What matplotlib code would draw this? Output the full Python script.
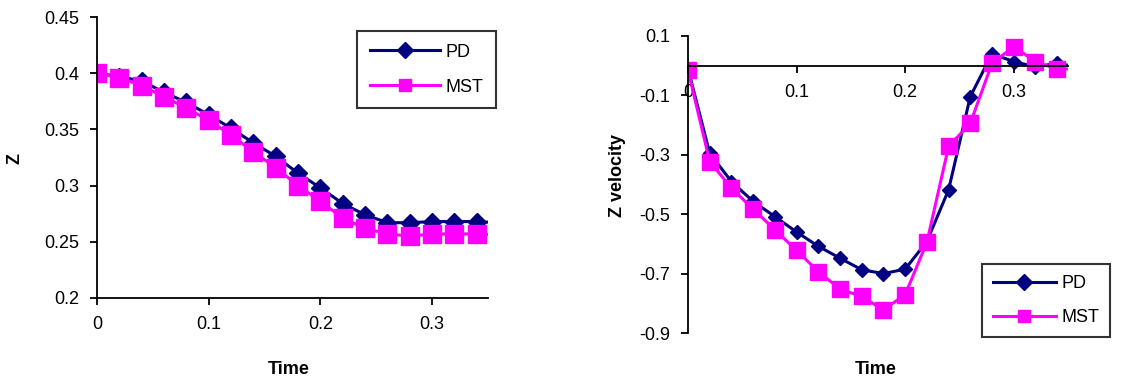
import matplotlib
matplotlib.use("Agg")
import matplotlib.pyplot as plt
from matplotlib.ticker import FormatStrFormatter, FuncFormatter

# time samples (last one lies just past the axis end, so only its line shows)
time = [0, 0.02, 0.04, 0.06, 0.08, 0.10, 0.12, 0.14, 0.16, 0.18,
        0.20, 0.22, 0.24, 0.26, 0.28, 0.30, 0.32, 0.34, 0.36]

# Z position
z_pd = [0.400, 0.397, 0.393, 0.383, 0.374, 0.363, 0.351, 0.338, 0.326, 0.311,
        0.298, 0.284, 0.274, 0.267, 0.267, 0.268, 0.268, 0.268, 0.267]
z_mst = [0.400, 0.396, 0.389, 0.379, 0.369, 0.358, 0.345, 0.330, 0.316, 0.300,
         0.286, 0.271, 0.262, 0.257, 0.255, 0.257, 0.257, 0.257, 0.256]

# Z velocity
v_pd = [-0.010, -0.295, -0.390, -0.457, -0.508, -0.560, -0.608, -0.648, -0.687, -0.700,
        -0.685, -0.592, -0.418, -0.104, 0.040, 0.014, -0.004, 0.008, -0.005]
v_mst = [-0.015, -0.323, -0.412, -0.483, -0.552, -0.622, -0.693, -0.752, -0.777, -0.822,
         -0.771, -0.595, -0.272, -0.194, 0.008, 0.064, 0.014, -0.012, -0.010]

series_labels = ["PD", "MST"]
navy = "#000080"
magenta = "#FF00FF"

plt.rcParams["font.family"] = ["Liberation Sans", "DejaVu Sans"]
plt.rcParams["axes.unicode_minus"] = False
fs = 13

W, H = 1138, 385
fig = plt.figure(figsize=(W / 100, H / 100), dpi=100, facecolor="w")

# ---- left: Z ----
ax1 = fig.add_axes([97 / W, 1 - 298 / H, 391 / W, 281 / H])
ax1.plot(time, z_pd, color=navy, lw=2.2, marker="D", ms=9, label=series_labels[0])
ax1.plot(time, z_mst, color=magenta, lw=2.2, marker="s", ms=13, label=series_labels[1])
ax1.set_xlim(0, 0.35)
ax1.set_ylim(0.2, 0.45)
ax1.set_xticks([0, 0.1, 0.2, 0.3])
ax1.set_yticks([0.2, 0.25, 0.3, 0.35, 0.4, 0.45])
ax1.xaxis.set_major_formatter(FormatStrFormatter("%g"))
ax1.yaxis.set_major_formatter(FormatStrFormatter("%g"))
for s in ("top", "right"):
    ax1.spines[s].set_visible(False)
for s in ("left", "bottom"):
    ax1.spines[s].set_linewidth(1.3)
ax1.tick_params(labelsize=fs, length=5, width=1.3, pad=8)
fig.text(289 / W, 1 - 370 / H, "Time", ha="center", va="center",
         fontsize=fs, fontweight="bold")
fig.text(15 / W, 1 - 158 / H, "Z", ha="center", va="center", rotation=90,
         fontsize=fs, fontweight="bold")
leg1 = ax1.legend(loc="upper left", bbox_to_anchor=(348 / W, 1 - 22 / H),
                  bbox_transform=fig.transFigure, fontsize=fs, frameon=True,
                  fancybox=False, edgecolor="black", handlelength=3.9,
                  labelspacing=1.0, borderpad=0.7, handletextpad=0.3)
leg1.get_frame().set_linewidth(1.5)
for h in leg1.legend_handles:
    h.set_markersize(8)

# ---- right: Z velocity ----
ax2 = fig.add_axes([688 / W, 1 - 333 / H, 380 / W, 297 / H])
ax2.plot(time, v_pd, color=navy, lw=2.2, marker="D", ms=7, label=series_labels[0])
ax2.plot(time, v_mst, color=magenta, lw=2.2, marker="s", ms=11, label=series_labels[1])
ax2.set_xlim(0, 0.35)
ax2.set_ylim(-0.9, 0.1)
ax2.set_xticks([0, 0.1, 0.2, 0.3])
ax2.set_yticks([0.1, -0.1, -0.3, -0.5, -0.7, -0.9])
ax2.xaxis.set_major_formatter(FormatStrFormatter("%g"))
ax2.yaxis.set_major_formatter(FuncFormatter(lambda v, p: "%g" % round(v, 2)))
ax2.spines["bottom"].set_position(("data", 0))
for s in ("top", "right"):
    ax2.spines[s].set_visible(False)
for s in ("left", "bottom"):
    ax2.spines[s].set_linewidth(1.3)
ax2.tick_params(labelsize=fs, length=5, width=1.3, pad=8)
fig.text(876 / W, 1 - 370 / H, "Time", ha="center", va="center",
         fontsize=fs, fontweight="bold")
fig.text(617 / W, 1 - 175 / H, "Z velocity", ha="center", va="center",
         rotation=90, fontsize=fs, fontweight="bold")
leg2 = ax2.legend(loc="upper left", bbox_to_anchor=(973 / W, 1 - 255 / H),
                  bbox_transform=fig.transFigure, fontsize=fs, frameon=True,
                  fancybox=False, edgecolor="black", handlelength=3.5,
                  labelspacing=0.95, borderpad=0.6, handletextpad=0.3)
leg2.get_frame().set_linewidth(1.5)
for h in leg2.legend_handles:
    h.set_markersize(8)

fig.savefig("out.png", dpi=100, facecolor="w")
